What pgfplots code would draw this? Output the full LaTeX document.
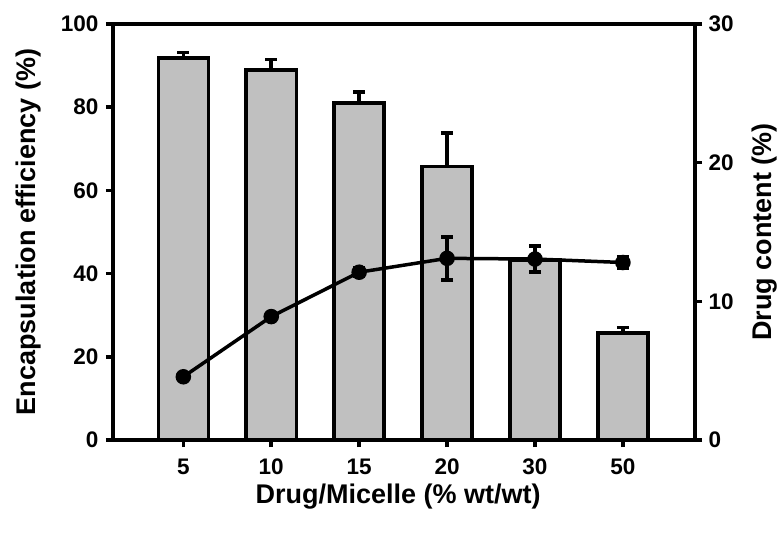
\documentclass[border=0pt]{standalone}
\usepackage{fontspec}
\setmainfont{Liberation Sans}
\usepackage{pgfplots}
\usepackage{pgfplotstable}
\pgfplotsset{compat=1.18}
\definecolor{bargray}{RGB}{192,192,192}

\pgfplotstableread{
x ee eeerr dc dcerr
0 91.8 1.4 4.56 0
1 89.0 2.5 8.9 0
2 81.0 2.7 12.1 0.3
3 65.8 8.0 13.1 1.55
4 43.3 0 13.05 0.95
5 25.7 1.4 12.8 0.4
}\datatable

\pgfplotsset{
  common/.style={
    at={(0,0)}, anchor=south west,
    scale only axis, width=582pt, height=416pt,
    xmin=-0.8, xmax=5.82,
    tick align=outside,
    major tick length=7pt,
    axis line style={line width=4pt},
    every tick/.style={black, line width=3.5pt},
    tick label style={font=\fontsize{22.5}{22.5}\selectfont\bfseries},
    /pgf/number format/assume math mode=true,
  }
}

\begin{document}
\begin{tikzpicture}
\path[use as bounding box] (-113pt,-95pt) rectangle (670pt,440pt);
\begin{axis}[
  common,
  ymin=0, ymax=100,
  xtick={0,...,5}, xticklabels={5,10,15,20,30,50},
  ytick={0,20,...,100},
  xtick pos=bottom, ytick pos=left,
  yticklabel style={xshift=-4pt},
  xticklabel style={yshift=-8pt},
  every axis y label/.style={at={(axis description cs:-0.146,0.5)}, rotate=90, anchor=center, font=\fontsize{27}{27}\selectfont\bfseries},
  every axis x label/.style={at={(axis description cs:0.49,-0.137)}, anchor=center, font=\fontsize{27}{27}\selectfont\bfseries},
  ylabel={Encapsulation efficiency (\%)},
  xlabel={Drug/Micelle (\% wt/wt)},
]
\addplot[ybar, bar width=50pt, fill=bargray, draw=black, line width=3.5pt,
  error bars/.cd, y dir=plus, y explicit,
  error bar style={line width=3.5pt, black},
  error mark options={rotate=90, mark size=6pt, line width=3.5pt, black}]
  table[x=x, y=ee, y error=eeerr] {\datatable};
\end{axis}
\begin{axis}[
  common,
  ymin=0, ymax=30,
  ytick={0,10,20,30},
  axis y line*=right, axis x line=none,
  yticklabel style={xshift=3pt},
  every axis y label/.style={at={(axis description cs:1.12,0.5)}, rotate=90, anchor=center, font=\fontsize{27}{27}\selectfont\bfseries},
  ylabel={Drug content (\%)},
]
\addplot[black, line width=3.5pt, mark=*, mark size=6pt, mark options={solid, fill=black},
  error bars/.cd, y dir=both, y explicit,
  error bar style={line width=3.5pt, black},
  error mark options={rotate=90, mark size=6pt, line width=3.5pt, black}]
  table[x=x, y=dc, y error=dcerr] {\datatable};
\end{axis}
\end{tikzpicture}
\end{document}
